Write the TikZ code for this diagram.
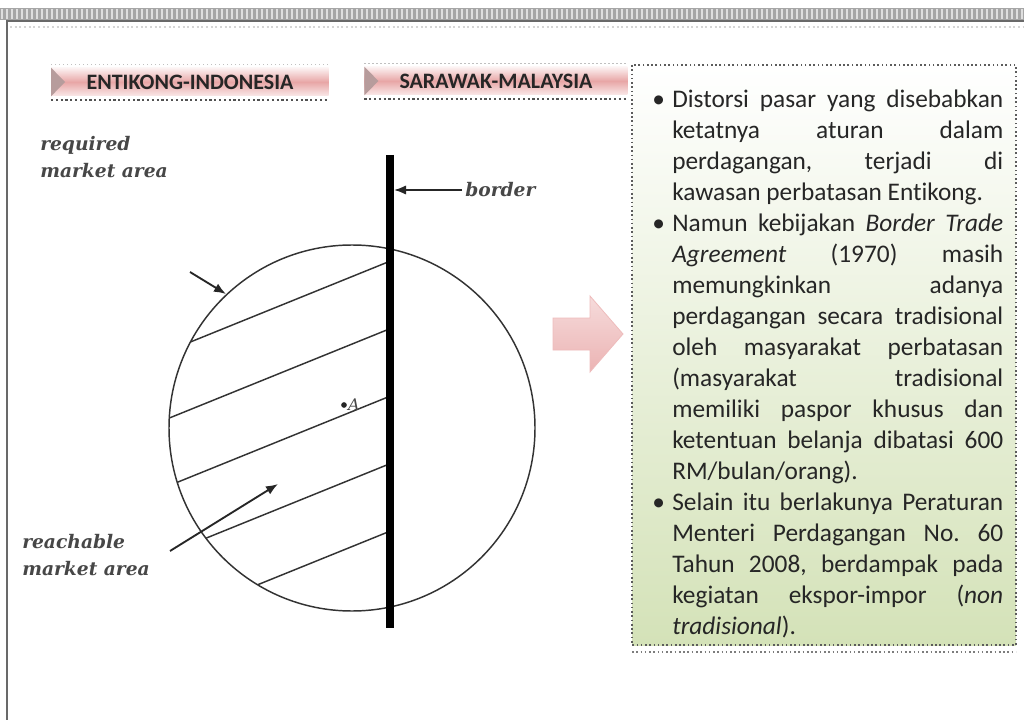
\documentclass[tikz,border=0pt]{standalone}
\usepackage{fontspec}
\setmainfont{Carlito}[Ligatures=NoCommon]
\newfontfamily\ketfont{DejaVu Serif}
\usepackage{xcolor}
\definecolor{merahM}{RGB}{232,166,166}
\definecolor{hijauM}{RGB}{212,226,184}
\definecolor{abu}{RGB}{150,150,150}
\definecolor{tinta}{RGB}{38,38,38}
\usepackage{tikz}
\usetikzlibrary{arrows.meta,positioning,calc}
\newcommand{\butir}{\noindent\hangindent=15pt\hangafter=1\makebox[15pt][l]{\textbullet}}

\begin{document}
\begin{tikzpicture}[x=0.75pt,y=-0.75pt,
            judul/.style={minimum height=21pt,inner sep=0pt,
              font=\fontsize{16.5}{18}\selectfont\bfseries,text=tinta,
              top color=merahM!15,bottom color=merahM!25,middle color=merahM},
            panah/.style={-{Latex[length=9pt,width=7pt]},line width=1.4pt,tinta},
            ket/.style={font=\ketfont\itshape\bfseries\fontsize{14}{20.25}\selectfont,
              align=left,inner sep=0pt,anchor=west,text=tinta!85},
            arsir/.style={line width=1.1pt,black!80},
            teks/.style={font=\fontsize{19}{23.25}\selectfont,text=tinta,inner sep=0pt}
            ]
            \useasboundingbox (0,0) rectangle (1024,720);
            \fill[white] (0,0) rectangle (1024,720);

            \fill[abu!85] (0,8) rectangle (1024,20);
            \foreach \x in {2,7,...,1022} \draw[white!70!abu,line width=0.8pt] (\x,9) -- (\x,19);
            \draw[abu!70!black,line width=1pt] (7,720) -- (7,21) -- (1024,21);
            \draw[abu!40,dotted,line width=1.5pt] (10,27) -- (1024,27);

            \node[judul,minimum width=208pt] (tabE) at (190,82) {ENTIKONG-INDONESIA};
            \node[judul,minimum width=197pt] (tabS) at (496,81) {SARAWAK-MALAYSIA};
            \foreach \t in {tabE,tabS}{
              \fill[abu!60!merahM] (\t.north west) -- ($(\t.west)+(14,0)$) -- (\t.south west) -- cycle;
              \draw[abu!60,dotted,line width=1pt] ($(\t.north west)+(0,-3)$) -- ($(\t.north east)+(0,-3)$);
              \draw[tinta!80,dotted,line width=1.6pt] ($(\t.south west)+(0,4)$) -- ($(\t.south east)+(0,4)$);
            }

            \node[ket] (req) at (40,157) {required\\market area};
            \node[ket] (rch) at (22,555) {reachable\\market area};
            \node[ket] (bdr) at (465,190) {border};

            \begin{scope}
              \clip (100,200) rectangle (388,660);
              \clip (352,428) circle (183);
              \foreach \k in {0,...,4}
                \draw[arsir] (388,262+67.5*\k) -- (120,262+67.5*\k+108.5);
            \end{scope}
            \draw[arsir] (352,428) circle (183);

            \coordinate (atas) at (390,155);
            \coordinate (bawah) at (390,628);
            \draw[line width=6pt] (atas) -- (bawah);

            \coordinate (bx) at (394,190);
            \coordinate (q1) at (190,272);
            \coordinate (q2) at (226,294);
            \coordinate (c1) at (170,551);
            \coordinate (c2) at (278,484);
            \draw[panah] ($(bdr.west)+(-3,0)$) -- (bx);
            \draw[panah] (q1) -- (q2);
            \draw[panah] (c1) -- (c2);

            \node[circle,fill=tinta,inner sep=1.5pt] (titikA) at (344,405) {};
            \node[ket,font=\ketfont\itshape\fontsize{12}{14}\selectfont,right=0.5pt of titikA] (hA) {A};

            \shade[top color=merahM!40,bottom color=merahM!85,draw=merahM!75,line width=0.6pt]
              (553,318) -- (590,318) -- (590,296) -- (623,334) -- (590,372) -- (590,350) -- (553,350) -- cycle;

            \shade[top color=white,bottom color=hijauM] (632,65) rectangle (1016,645);
            \draw[tinta!75,dotted,line width=1.2pt] (632,65) rectangle (1016,645);
            \draw[tinta!60,dotted,line width=1.2pt] (632,652) -- (1016,652);

            \node[teks,anchor=base west] (isi) at (652,108) {\parbox[t]{263.25pt}{%
              \frenchspacing\tolerance=10000\hbadness=10000\hyphenpenalty=10000
              \butir Distorsi pasar yang disebabkan\linebreak ketatnya aturan dalam\linebreak
              perdagangan, terjadi di\linebreak kawasan perbatasan Entikong.\par
              \butir Namun kebijakan \textit{Border Trade}\linebreak \textit{Agreement} (1970) masih\linebreak
              memungkinkan adanya\linebreak perdagangan secara tradisional\linebreak
              oleh masyarakat perbatasan\linebreak (masyarakat tradisional\linebreak
              memiliki paspor khusus dan\linebreak ketentuan belanja dibatasi 600\linebreak
              RM/bulan/orang).\par
              \butir Selain itu berlakunya Peraturan\linebreak Menteri Perdagangan No. 60\linebreak
              Tahun 2008, berdampak pada\linebreak kegiatan ekspor-impor (\textit{non}\linebreak
              \textit{tradisional}).}};
          \end{tikzpicture}
\end{document}
